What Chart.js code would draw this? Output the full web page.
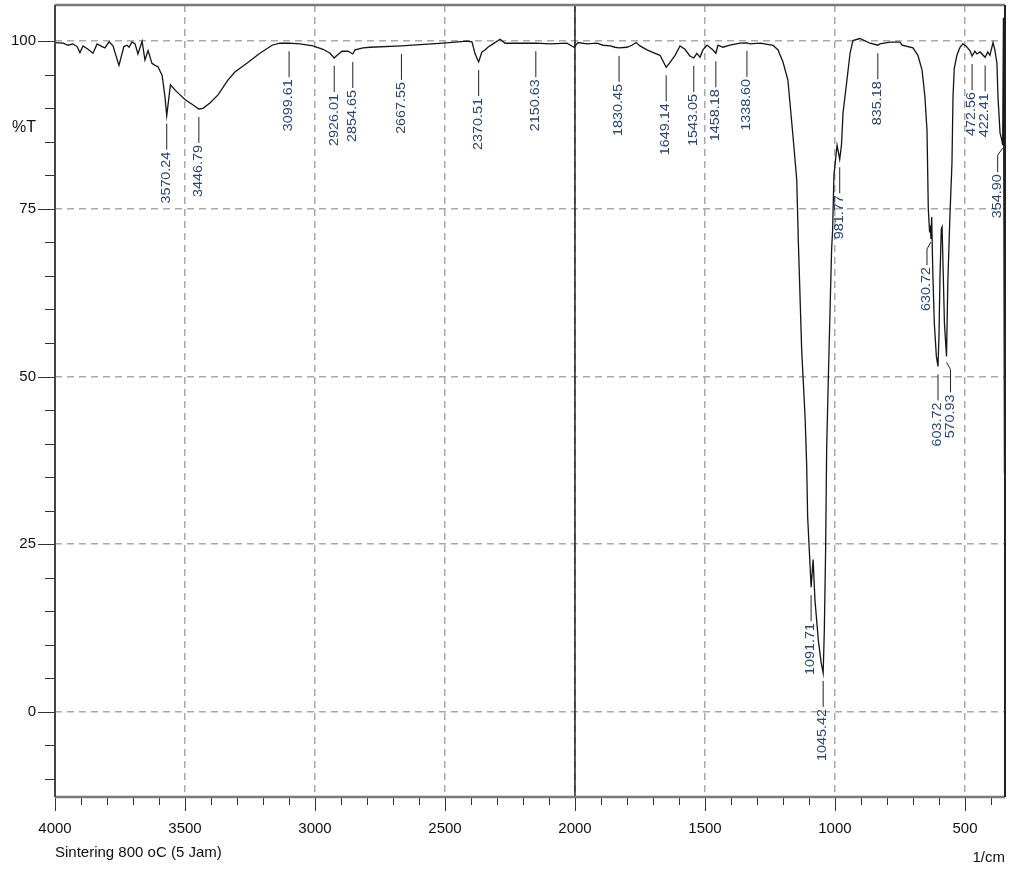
<!DOCTYPE html>
<html>
<head>
<meta charset="utf-8">
<title>FTIR spectrum - Sintering 800 oC (5 Jam)</title>
<script src="https://cdn.jsdelivr.net/npm/chart.js@4.4.1/dist/chart.umd.min.js"></script>
<style>
  html, body { margin: 0; padding: 0; background: #ffffff; }
  #wrap { width: 1014px; height: 870px; position: relative; }
</style>
</head>
<body>
<div id="wrap"><canvas id="spectrum"></canvas></div>
<script>
// Wavenumber (1/cm), descending, and transmittance (%T) of the spectrum
const wavenumbers = [
  4000, 3969, 3950, 3931, 3915, 3904, 3892, 3873, 3854, 3838, 3819, 3808, 3792, 3777, 3754,
  3735, 3723, 3715, 3704, 3692, 3681, 3665, 3654, 3642, 3627, 3615, 3604, 3588, 3577, 3570.24,
  3556, 3538, 3519, 3500, 3473, 3446.79, 3431, 3404, 3373, 3335, 3308, 3262, 3212, 3165, 3135,
  3099.61, 3058, 3008, 2969, 2942, 2926.01, 2915, 2896, 2873, 2854.65, 2846, 2815, 2788, 2667.55,
  2508, 2415, 2396, 2385, 2370.51, 2358, 2346, 2335, 2315, 2288, 2269, 2223, 2150.63, 2096, 2031,
  2004, 1988, 1954, 1915, 1892, 1865, 1846, 1830.45, 1800, 1781, 1765, 1750, 1723, 1692, 1673,
  1649.14, 1635, 1615, 1596, 1577, 1558, 1543.05, 1531, 1519, 1508, 1492, 1469, 1458.18, 1450,
  1431, 1404, 1365, 1338.60, 1327, 1288, 1238, 1219, 1200, 1181, 1160, 1147, 1141, 1128, 1115,
  1109, 1105, 1091.71, 1084, 1077, 1064, 1053, 1045.42, 1041, 1036, 1032, 1026, 1013, 1009, 1004,
  992, 981.77, 975, 969, 954, 942, 931, 904, 865, 835.18, 827, 788, 750, 742, 700, 681, 665, 654,
  646, 641, 636, 633, 630.72, 628, 624, 618, 610, 603.72, 600, 596, 591, 588, 584, 579, 570.93,
  566, 558, 550, 546, 541, 531, 519, 508, 496, 481, 472.56, 462, 454, 442, 422.41, 412, 404, 392,
  385, 377, 373, 365, 358, 354.90, 352, 348
];
const transmittance = [
  99.8, 99.7, 99.4, 99.6, 99.2, 98.3, 99.3, 98.8, 98.2, 99.6, 99.2, 99.0, 99.9, 99.3, 96.4,
  99.2, 99.4, 99.1, 99.9, 99.6, 98.1, 100.0, 97.2, 98.6, 96.7, 96.4, 96.2, 94.9, 91.7, 88.9,
  93.5, 92.7, 92.0, 91.3, 90.6, 89.9, 90.0, 90.8, 92.0, 94.2, 95.4, 96.7, 98.2, 99.4, 99.7,
  99.7, 99.6, 99.3, 98.8, 98.2, 97.5, 97.9, 98.5, 98.5, 98.1, 98.7, 99.0, 99.1, 99.3,
  99.7, 100.0, 99.9, 98.2, 96.9, 98.4, 98.7, 99.1, 99.6, 100.3, 99.7, 99.7, 99.7, 99.6, 99.7,
  99.1, 99.8, 99.6, 99.7, 99.4, 99.3, 99.1, 99.0, 99.1, 99.4, 99.8, 99.3, 98.7, 98.2, 97.9,
  96.1, 96.8, 97.9, 99.3, 98.8, 97.8, 97.5, 98.2, 97.6, 98.7, 99.4, 98.7, 98.2, 99.4,
  99.1, 99.4, 99.7, 99.75, 99.6, 99.7, 99.4, 98.7, 96.9, 94.2, 85.2, 79.3, 70.3, 53.9, 44.0,
  37.0, 29.0, 18.6, 22.7, 16.7, 10.7, 7.3, 5.8, 12.0, 24.0, 39.0, 49.0, 68.9, 71.8, 80.0,
  84.5, 82.4, 84.5, 89.3, 94.2, 98.2, 100.1, 100.4, 99.7, 99.4, 99.6, 99.85, 99.85, 99.4, 99.0, 97.9, 95.7, 91.7,
  86.7, 75.0, 71.5, 72.5, 70.5, 73.8, 66.0, 58.0, 53.0, 51.5, 56.0, 65.0, 72.0, 72.3, 66.0, 58.0, 53.0,
  63.9, 73.8, 81.8, 91.7, 96.0, 97.9, 99.1, 99.6, 99.3, 98.6, 97.8, 98.5, 98.1, 98.4, 97.6, 98.4, 97.9, 99.8,
  98.7, 96.7, 91.7, 86.3, 85.2, 84.5, 103.5, 35.5
];

// Peak positions that are annotated on the spectrum
const peakLabels = [
  '3570.24', '3446.79', '3099.61', '2926.01', '2854.65', '2667.55', '2370.51', '2150.63',
  '1830.45', '1649.14', '1543.05', '1458.18', '1338.60', '1091.71', '1045.42', '981.77',
  '835.18', '630.72', '603.72', '570.93', '472.56', '422.41', '354.90'
];

// Axis ticks
const xTickValues = [4000, 3500, 3000, 2500, 2000, 1500, 1000, 500];
const yTickValues = [0, 25, 50, 75, 100];

// Peak annotations whose leader line bends sideways (pixel offsets)
const leaderBends = {
  '630.72': { shift: -4, gap: 3, len: 23 },
  '570.93': { shift: 4, gap: 6, len: 30 },
  '354.90': { shift: -5, gap: 3, len: 24 }
};

const FONT = "'Liberation Sans', Arial, sans-serif";
const points = wavenumbers.map((w, i) => ({ x: w, y: transmittance[i] }));

// Minor/major tick marks, framed plot box and the solid 2000 1/cm divider
const framePlugin = {
  id: 'frame',
  afterDatasetsDraw(chart) {
    const { ctx, chartArea: a, scales: { x, y } } = chart;
    ctx.save();
    // divider at 2000
    const x2000 = x.getPixelForValue(2000);
    ctx.strokeStyle = '#111';
    ctx.lineWidth = 1.4;
    ctx.beginPath();
    ctx.moveTo(x2000, a.top);
    ctx.lineTo(x2000, a.bottom);
    ctx.stroke();

    // x tick marks
    ctx.strokeStyle = '#333';
    ctx.lineWidth = 1;
    for (let v = 400; v <= 4000; v += 100) {
      const px = Math.round(x.getPixelForValue(v)) + 0.5;
      const len = v % 500 === 0 ? 14 : 8;
      ctx.beginPath();
      ctx.moveTo(px, a.bottom);
      ctx.lineTo(px, a.bottom + len);
      ctx.stroke();
    }
    // y tick marks
    for (let v = -10; v <= 100; v += 5) {
      const py = Math.round(y.getPixelForValue(v)) + 0.5;
      const len = v % 25 === 0 ? 17 : 10;
      ctx.beginPath();
      ctx.moveTo(a.left - len, py);
      ctx.lineTo(a.left, py);
      ctx.stroke();
    }

    // box
    ctx.lineWidth = 2.5;
    ctx.strokeStyle = '#7a7a7a';
    ctx.beginPath();
    ctx.moveTo(a.left, a.top);
    ctx.lineTo(a.right, a.top);
    ctx.stroke();
    ctx.beginPath();
    ctx.moveTo(a.left, a.bottom);
    ctx.lineTo(a.right, a.bottom);
    ctx.stroke();
    ctx.lineWidth = 2;
    ctx.strokeStyle = '#444';
    ctx.beginPath();
    ctx.moveTo(a.left, a.top);
    ctx.lineTo(a.left, a.bottom);
    ctx.stroke();
    ctx.strokeStyle = '#222';
    ctx.beginPath();
    ctx.moveTo(a.right, a.top);
    ctx.lineTo(a.right, a.bottom);
    ctx.stroke();

    // axis captions
    ctx.fillStyle = '#111';
    ctx.font = '16px ' + FONT;
    ctx.textBaseline = 'middle';
    ctx.textAlign = 'left';
    ctx.fillText('%T', 12, 128);
    ctx.font = '15px ' + FONT;
    ctx.fillText('Sintering 800 oC (5 Jam)', 55, 853);
    ctx.textAlign = 'right';
    ctx.fillText('1/cm', a.right, 858);
    ctx.restore();
  }
};

// Vertical peak labels with leader lines hanging below the curve
const peakLabelPlugin = {
  id: 'peakLabels',
  afterDatasetsDraw(chart) {
    const { ctx, scales: { x, y } } = chart;
    ctx.save();
    peakLabels.forEach(label => {
      const wn = parseFloat(label);
      const idx = wavenumbers.findIndex(w => Math.abs(w - wn) < 1e-6);
      if (idx < 0) return;
      const px = x.getPixelForValue(wn);
      const cy = y.getPixelForValue(transmittance[idx]);
      const bend = leaderBends[label] || { shift: 0, gap: 8, len: 26 };
      const top = cy + bend.gap;
      const end = top + bend.len;
      const tx = px + bend.shift;
      ctx.strokeStyle = '#222';
      ctx.lineWidth = 1;
      ctx.beginPath();
      ctx.moveTo(px, top);
      if (bend.shift !== 0) ctx.lineTo(tx, top + 7);
      ctx.lineTo(tx, end);
      ctx.stroke();

      ctx.save();
      ctx.translate(tx, end + 2);
      ctx.rotate(-Math.PI / 2);
      ctx.scale(1.15, 0.95);
      ctx.font = '12.5px ' + FONT;
      ctx.fillStyle = '#2a456f';
      ctx.textAlign = 'right';
      ctx.textBaseline = 'middle';
      ctx.fillText(label, 0, 0);
      ctx.restore();
    });
    ctx.restore();
  }
};

new Chart(document.getElementById('spectrum'), {
  type: 'line',
  data: {
    datasets: [{
      data: points,
      borderColor: '#151515',
      borderWidth: 1.3,
      pointRadius: 0,
      tension: 0,
      fill: false
    }]
  },
  options: {
    responsive: true,
    maintainAspectRatio: false,
    animation: false,
    devicePixelRatio: 1,
    parsing: false,
    layout: { padding: { top: 5, right: 9, bottom: 0, left: 0 } },
    plugins: { legend: { display: false }, tooltip: { enabled: false } },
    scales: {
      x: {
        type: 'linear',
        reverse: true,
        min: 346,
        max: 4000,
        afterBuildTicks: s => { s.ticks = xTickValues.map(v => ({ value: v })); },
        afterFit: s => { s.height = 73; s.paddingLeft = 0; s.paddingRight = 0; },
        grid: {
          color: c => (c.tick && c.tick.value === 4000) ? 'rgba(0,0,0,0)' : '#a9a9a9',
          lineWidth: 1.5,
          drawTicks: true,
          tickLength: 15,
          tickColor: 'rgba(0,0,0,0)'
        },
        border: { display: false, dash: [7, 5] },
        ticks: {
          color: '#111',
          font: { family: FONT, size: 15 },
          padding: 8,
          maxRotation: 0,
          autoSkip: false,
          callback: v => String(v)
        }
      },
      y: {
        type: 'linear',
        min: -12.7,
        max: 105.4,
        afterBuildTicks: s => { s.ticks = yTickValues.map(v => ({ value: v })); },
        afterFit: s => { s.width = 55; s.paddingTop = 0; s.paddingBottom = 0; },
        grid: {
          color: '#a9a9a9',
          lineWidth: 1.5,
          drawTicks: true,
          tickLength: 17,
          tickColor: 'rgba(0,0,0,0)'
        },
        border: { display: false, dash: [7, 5] },
        ticks: {
          color: '#111',
          font: { family: FONT, size: 15 },
          padding: 2,
          autoSkip: false,
          callback: v => String(v)
        }
      }
    }
  },
  plugins: [framePlugin, peakLabelPlugin]
});
</script>
</body>
</html>
